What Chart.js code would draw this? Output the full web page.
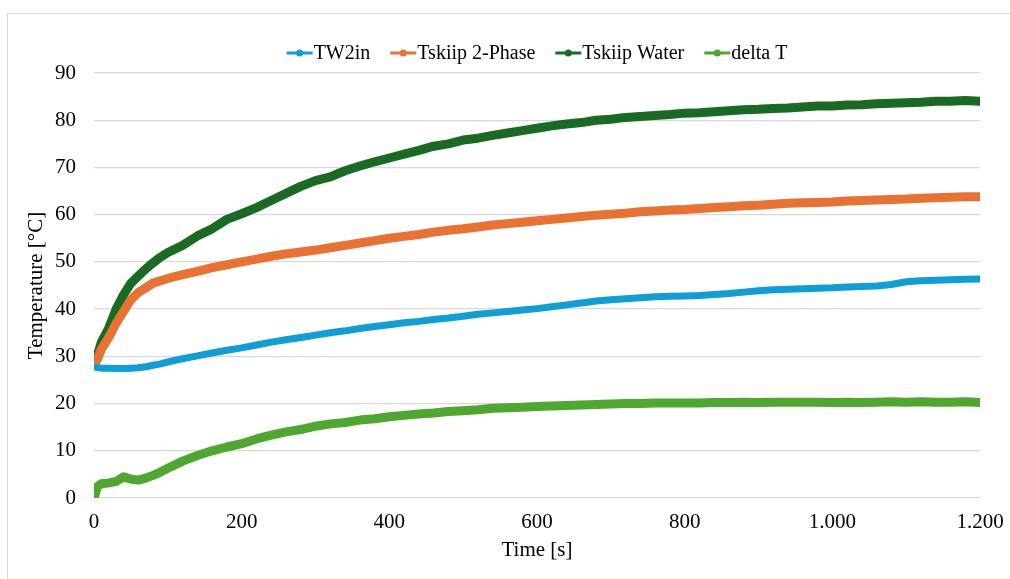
<!DOCTYPE html>
<html>
<head>
<meta charset="utf-8">
<script src="https://cdn.jsdelivr.net/npm/chart.js@4"></script>
<style>
html,body{margin:0;padding:0;background:#fff;}
#wrap{position:relative;width:1010px;height:579px;overflow:hidden;}
#frame{position:absolute;left:7px;top:13px;width:1100px;height:700px;border:1px solid #d9d9d9;box-sizing:border-box;}
canvas{position:absolute;left:0;top:0;}
</style>
</head>
<body>
<div id="wrap"><div id="frame"></div><canvas id="c" width="1010" height="579"></canvas></div>
<script>
const times = [0,5,10,20,30,40,50,60,70,80,90,100,120,140,160,180,200,220,240,260,280,300,320,340,360,380,400,420,440,460,480,500,520,540,560,580,600,620,640,660,680,700,720,740,760,780,800,820,840,860,880,900,920,940,960,980,1000,1020,1040,1060,1080,1100,1120,1140,1160,1180,1200];
const tw2in = [27.8,27.6,27.5,27.5,27.4,27.4,27.5,27.6,27.8,28.1,28.4,28.8,29.5,30.1,30.7,31.3,31.8,32.4,33.0,33.5,34.0,34.5,35.0,35.4,35.9,36.3,36.7,37.1,37.4,37.8,38.1,38.5,38.9,39.2,39.5,39.8,40.1,40.5,40.9,41.3,41.7,42.0,42.2,42.4,42.6,42.7,42.8,42.9,43.1,43.3,43.6,43.9,44.1,44.2,44.3,44.4,44.5,44.7,44.8,44.9,45.2,45.8,46.0,46.1,46.2,46.3,46.4];
const tskiip2Phase = [28.0,29.5,31.5,34.0,37.0,39.5,42.0,43.5,44.5,45.5,46.0,46.5,47.3,48.0,48.8,49.4,50.0,50.6,51.2,51.7,52.1,52.5,53.0,53.5,54.0,54.5,55.0,55.4,55.8,56.3,56.7,57.0,57.4,57.8,58.1,58.4,58.7,59.0,59.3,59.6,59.9,60.1,60.3,60.6,60.8,61.0,61.1,61.3,61.5,61.7,61.9,62.0,62.2,62.4,62.5,62.6,62.7,62.9,63.0,63.1,63.2,63.3,63.5,63.6,63.7,63.8,63.8];
const tskiipWater = [28.0,30.5,33.0,36.0,40.0,43.0,45.5,47.0,48.5,49.8,51.0,52.0,53.5,55.5,57.0,59.0,60.2,61.5,63.0,64.5,66.0,67.2,68.0,69.3,70.3,71.2,72.0,72.8,73.6,74.5,75.0,75.8,76.2,76.8,77.3,77.8,78.3,78.8,79.2,79.5,80.0,80.2,80.6,80.8,81.0,81.2,81.5,81.6,81.8,82.0,82.2,82.3,82.5,82.6,82.8,83.0,83.0,83.2,83.3,83.5,83.6,83.7,83.8,84.0,84.0,84.2,84.0];
const deltaT = [0.0,2.5,3.0,3.2,3.5,4.5,4.0,3.8,4.2,4.8,5.5,6.3,7.8,9.0,10.0,10.8,11.5,12.5,13.3,14.0,14.5,15.2,15.7,16.0,16.5,16.8,17.2,17.5,17.8,18.0,18.3,18.5,18.7,19.0,19.1,19.2,19.4,19.5,19.6,19.7,19.8,19.9,20.0,20.0,20.1,20.1,20.1,20.1,20.2,20.2,20.3,20.2,20.3,20.3,20.3,20.3,20.2,20.3,20.2,20.3,20.4,20.3,20.4,20.3,20.3,20.4,20.2];
const seriesNames = ['TW2in','Tskiip 2-Phase','Tskiip Water','delta T'];
const seriesColors = ['#0F9ED5','#E97132','#196B24','#4EA72E'];
const xTickValues = [0,200,400,600,800,1000,1200];
const xTickLabels = ['0','200','400','600','800','1.000','1.200'];
const yTickValues = [0,10,20,30,40,50,60,70,80,90];
const yTickLabels = ['0','10','20','30','40','50','60','70','80','90'];

const FONT = "'Liberation Serif','Times New Roman',serif";
const allSeries = [tw2in, tskiip2Phase, tskiipWater, deltaT];
const widths = [7,9,9,9];
const datasets = allSeries.map((vals,i)=>({
  label: seriesNames[i],
  data: times.map((t,j)=>({x:t,y:vals[j]})),
  borderColor: seriesColors[i],
  backgroundColor: seriesColors[i],
  borderWidth: widths[i],
  pointRadius: 0,
  tension: 0,
  borderCapStyle: 'round',
  borderJoinStyle: 'round'
}));

const legendPlugin = {
  id: 'customLegend',
  afterDraw(chart){
    const ctx = chart.ctx;
    ctx.save();
    ctx.font = "20px " + FONT;
    ctx.textBaseline = 'middle';
    const lineLen = 26, gap = 1, itemGap = 20;
    const widthsItems = seriesNames.map(n=>lineLen+gap+ctx.measureText(n).width);
    const total = widthsItems.reduce((a,b)=>a+b,0) + itemGap*(seriesNames.length-1);
    let x = (chart.chartArea.left + chart.chartArea.right)/2 - total/2;
    const y = 53;
    seriesNames.forEach((n,i)=>{
      ctx.strokeStyle = seriesColors[i];
      ctx.lineWidth = 3;
      ctx.beginPath(); ctx.moveTo(x, y); ctx.lineTo(x+lineLen, y); ctx.stroke();
      ctx.fillStyle = seriesColors[i];
      ctx.beginPath(); ctx.arc(x+lineLen/2, y, 3.5, 0, Math.PI*2); ctx.fill();
      ctx.fillStyle = '#000';
      ctx.fillText(n, x+lineLen+gap, y+1);
      x += widthsItems[i] + itemGap;
    });
    ctx.restore();
  }
};

new Chart(document.getElementById('c'), {
  type: 'line',
  data: { datasets },
  options: {
    responsive: false,
    animation: false,
    layout: { padding: { left: 10, top: 73, right: 30, bottom: 8 } },
    plugins: { legend: { display: false }, tooltip: { enabled: false } },
    scales: {
      x: {
        type: 'linear', min: 0, max: 1200,
        afterBuildTicks: s => { s.ticks = xTickValues.map(v=>({value:v})); },
        afterFit: s => { s.height = 73; s.paddingLeft = 0; s.paddingRight = 0; },
        grid: { display: false, drawTicks: false },
        border: { display: false },
        ticks: { color: '#000', font: { family: FONT, size: 21 }, padding: 12, maxRotation: 0,
          callback: (v) => xTickLabels[xTickValues.indexOf(v)] },
        title: { display: true, text: 'Time [s]', color: '#000', font: { family: FONT, size: 21 }, padding: { top: 2, bottom: 8 } }
      },
      y: {
        min: 0, max: 90,
        afterBuildTicks: s => { s.ticks = yTickValues.map(v=>({value:v})); },
        afterFit: s => { s.width = 84; s.paddingTop = 0; s.paddingBottom = 0; },
        grid: { color: '#d9d9d9', lineWidth: 1.3, drawTicks: false },
        border: { display: false },
        ticks: { color: '#000', font: { family: FONT, size: 21 }, padding: 18,
          callback: (v) => yTickLabels[yTickValues.indexOf(v)] },
        title: { display: true, text: 'Temperature [°C]', color: '#000', font: { family: FONT, size: 21 }, padding: { top: 14, bottom: 0 } }
      }
    }
  },
  plugins: [legendPlugin]
});
</script>
</body>
</html>
